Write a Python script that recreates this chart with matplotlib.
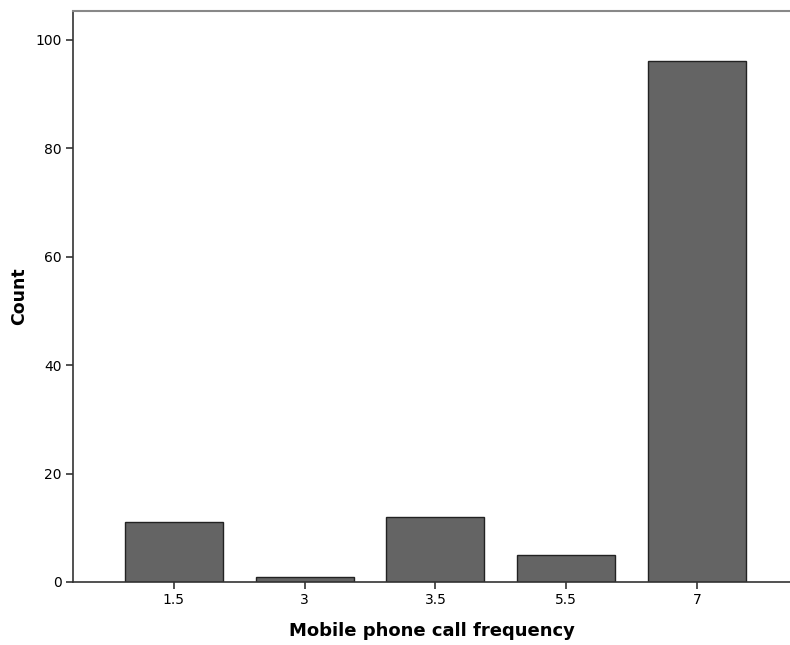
import numpy as np
import matplotlib
matplotlib.use("Agg")
import matplotlib.pyplot as plt

# call frequency categories and their counts
categories = ["1.5", "3", "3.5", "5.5", "7"]
counts = [11, 1, 12, 5, 96]

fig = plt.figure(figsize=(7.9, 6.45), dpi=100)
ax = fig.add_axes([0.0924, 0.0977, 0.9076, 0.8853])

x = np.arange(len(categories))
ax.bar(x, counts, width=0.75, color="#646464", edgecolor="#222222", linewidth=1.0, zorder=2)

ax.set_xlim(-0.77, 4.71)
ax.set_ylim(0, 105.3)
ax.set_xticks(x)
ax.set_xticklabels(categories)
ax.set_yticks([0, 20, 40, 60, 80, 100])

ax.tick_params(axis="both", direction="out", length=5, width=1.2, color="#333333",
               labelsize=10, pad=3)
for side in ("left", "bottom"):
    ax.spines[side].set_color("#333333")
    ax.spines[side].set_linewidth(1.2)
ax.spines["top"].set_color("#888888")
ax.spines["top"].set_linewidth(1.5)
ax.spines["right"].set_visible(False)

ax.set_xlabel("Mobile phone call frequency", fontsize=13, fontweight="bold", labelpad=11)
ax.set_ylabel("Count", fontsize=12.5, fontweight="bold", labelpad=5)

fig.savefig("out.png", dpi=100)
